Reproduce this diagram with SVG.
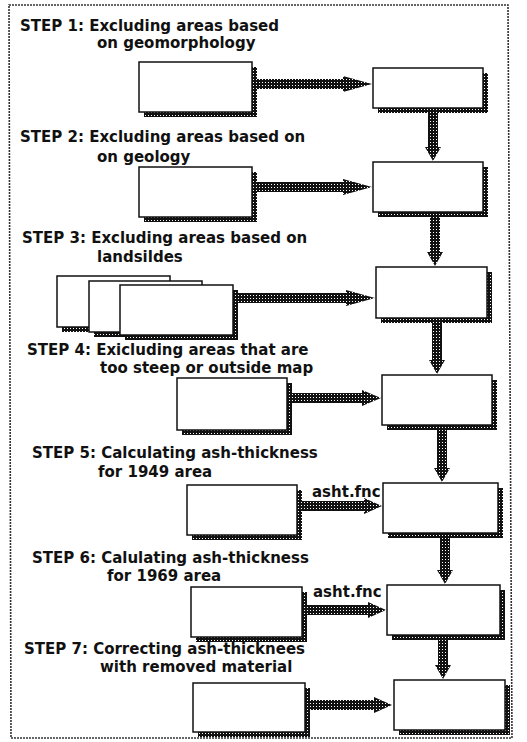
<svg xmlns="http://www.w3.org/2000/svg" width="527" height="742" viewBox="0 0 527 742">
<defs>
<pattern id="stip" width="3" height="3" patternUnits="userSpaceOnUse">
<rect width="3" height="3" fill="#111"/>
<rect x="1" y="1" width="1" height="1" fill="#ffffff"/>
</pattern>
<style>
.box{fill:#fff;stroke:#111;stroke-width:1.5}
.sh{fill:url(#stip)}
.arr{fill:url(#stip)}
.t{font-family:"DejaVu Sans","Liberation Sans",sans-serif;font-weight:bold;font-size:15px;fill:#111}
.frame{fill:#fff;stroke:#333;stroke-width:1.6;stroke-dasharray:2 1}
</style>
</defs>
<rect width="527" height="742" fill="#fff"/>
<polygon class="frame" points="9,5 508,5 512,738 11,738"/>

<g id="labels">
<text class="t" x="20" y="31">STEP 1: Excluding areas based</text>
<text class="t" x="97" y="48">on geomorphology</text>
<text class="t" x="20" y="142">STEP 2: Excluding areas based on</text>
<text class="t" x="97" y="162">on geology</text>
<text class="t" x="22" y="243">STEP 3: Excluding areas based on</text>
<text class="t" x="97" y="262">landsildes</text>
<text class="t" x="27" y="355">STEP 4: Exicluding areas that are</text>
<text class="t" x="100" y="373">too steep or outside map</text>
<text class="t" x="32" y="458">STEP 5: Calculating ash-thickness</text>
<text class="t" x="98" y="477">for 1949 area</text>
<text class="t" x="32" y="563">STEP 6: Calulating ash-thickness</text>
<text class="t" x="107" y="581">for 1969 area</text>
<text class="t" x="24" y="654">STEP 7: Correcting ash-thicknees</text>
<text class="t" x="100" y="672">with removed material</text>
</g>

<g id="connectors">
<polygon class="arr" points="252,79 343,79 343,76 372,84 343,92 343,89 252,89"/>
<polygon class="arr" points="252,182 343,182 343,179 372,187 343,195 343,192 252,192"/>
<polygon class="arr" points="233,293 346,293 346,290 375,298 346,306 346,303 233,303"/>
<polygon class="arr" points="287,393 362,393 362,390 381,398 362,406 362,403 287,403"/>
<polygon class="arr" points="297,501 364,501 364,498 382,506 364,514 364,511 297,511"/>
<text class="t" x="312" y="497">asht.fnc</text>
<polygon class="arr" points="302,605 368,605 368,602 386,610 368,618 368,615 302,615"/>
<text class="t" x="313" y="597">asht.fnc</text>
<polygon class="arr" points="305,700 374,700 374,697 392,705 374,713 374,710 305,710"/>
<polygon class="arr" points="428,113 438,113 438,147 441,147 433,161 425,147 428,147"/>
<polygon class="arr" points="430,217 440,217 440,252 443,252 435,266 427,252 430,252"/>
<polygon class="arr" points="432,323 442,323 442,360 445,360 437,374 429,360 432,360"/>
<polygon class="arr" points="437,430 447,430 447,468 450,468 442,482 434,468 437,468"/>
<polygon class="arr" points="440,538 450,538 450,570 453,570 445,584 437,570 440,570"/>
<polygon class="arr" points="438,640 448,640 448,665 451,665 443,679 435,665 438,665"/>
</g>

<g id="n1a"><rect class="sh" x="144" y="67" width="113" height="50"/><rect class="box" x="139" y="62" width="113" height="50"/></g>
<g id="n1b"><rect class="sh" x="378" y="73" width="110" height="40"/><rect class="box" x="373" y="68" width="110" height="40"/></g>
<g id="n2a"><rect class="sh" x="144" y="172" width="113" height="50"/><rect class="box" x="139" y="167" width="113" height="50"/></g>
<g id="n2b"><rect class="sh" x="378" y="167" width="110" height="50"/><rect class="box" x="373" y="162" width="110" height="50"/></g>
<g id="n3a"><rect class="sh" x="62" y="281" width="113" height="51"/><rect class="box" x="57" y="276" width="113" height="51"/></g>
<g id="n3b"><rect class="sh" x="94" y="286" width="113" height="51"/><rect class="box" x="89" y="281" width="113" height="51"/></g>
<g id="n3c"><rect class="sh" x="125" y="290" width="113" height="50"/><rect class="box" x="120" y="285" width="113" height="50"/></g>
<g id="n3d"><rect class="sh" x="381" y="272" width="111" height="51"/><rect class="box" x="376" y="267" width="111" height="51"/></g>
<g id="n4a"><rect class="sh" x="182" y="383" width="110" height="52"/><rect class="box" x="177" y="378" width="110" height="52"/></g>
<g id="n4b"><rect class="sh" x="387" y="380" width="110" height="50"/><rect class="box" x="382" y="375" width="110" height="50"/></g>
<g id="n5a"><rect class="sh" x="192" y="490" width="110" height="50"/><rect class="box" x="187" y="485" width="110" height="50"/></g>
<g id="n5b"><rect class="sh" x="388" y="488" width="115" height="50"/><rect class="box" x="383" y="483" width="115" height="50"/></g>
<g id="n6a"><rect class="sh" x="196" y="592" width="111" height="50"/><rect class="box" x="191" y="587" width="111" height="50"/></g>
<g id="n6b"><rect class="sh" x="392" y="590" width="113" height="50"/><rect class="box" x="387" y="585" width="113" height="50"/></g>
<g id="n7a"><rect class="sh" x="198" y="688" width="112" height="49"/><rect class="box" x="193" y="683" width="112" height="49"/></g>
<g id="n7b"><rect class="sh" x="399" y="685" width="111" height="50"/><rect class="box" x="394" y="680" width="111" height="50"/></g>
</svg>
